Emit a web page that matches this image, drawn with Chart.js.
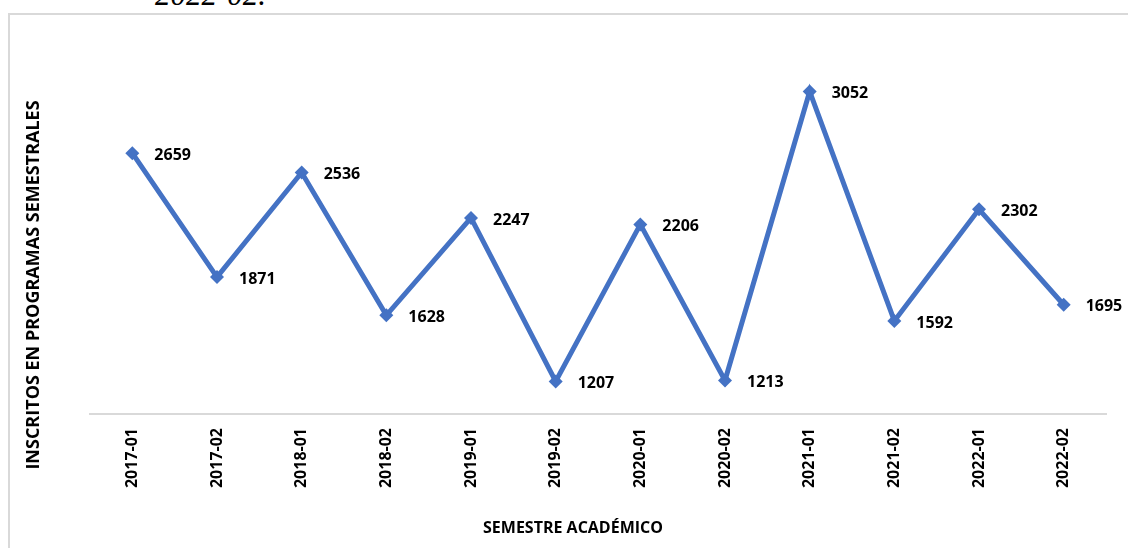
<!DOCTYPE html>
<html>
<head>
<meta charset="utf-8">
<script src="https://cdn.jsdelivr.net/npm/chart.js@4.4.1/dist/chart.umd.min.js"></script>
<style>
  html, body { margin:0; padding:0; background:#fff; overflow:hidden; }
  body { width:1128px; height:548px; position:relative; }
  #frame { position:absolute; left:8px; top:13px; width:1200px; height:600px; border:2px solid #d9d9d9; box-sizing:border-box; }
  #caption { position:absolute; left:155px; top:-21px; font-family:"Liberation Serif", serif; font-style:italic; font-size:31px; line-height:1; color:#000; white-space:nowrap; }
  #wrap { position:absolute; left:0; top:0; width:1128px; height:548px; }
</style>
</head>
<body>
<div id="caption">2022-02.</div>
<div id="frame"></div>
<div id="wrap"><canvas id="c" width="1128" height="548"></canvas></div>
<script>
const categories = ["2017-01","2017-02","2018-01","2018-02","2019-01","2019-02","2020-01","2020-02","2021-01","2021-02","2022-01","2022-02"];
const inscritos = [2659,1871,2536,1628,2247,1207,2206,1213,3052,1592,2302,1695];
const yTitle = "INSCRITOS EN PROGRAMAS SEMESTRALES";
const xTitle = "SEMESTRE ACADÉMICO";

const FONT = '"Open Sans", "Liberation Sans", sans-serif';

const dataLabels = {
  id: 'dataLabels',
  afterDatasetsDraw(chart) {
    const ctx = chart.ctx;
    const meta = chart.getDatasetMeta(0);
    ctx.save();
    ctx.font = 'bold 16px ' + FONT;
    ctx.fillStyle = '#000';
    ctx.textAlign = 'left';
    ctx.textBaseline = 'middle';
    meta.data.forEach((pt, i) => {
      ctx.fillText(String(chart.data.datasets[0].data[i]), pt.x + 22, pt.y + 2);
    });
    ctx.restore();
  }
};

const axisTitles = {
  id: 'axisTitles',
  afterDraw(chart) {
    const ctx = chart.ctx;
    ctx.save();
    ctx.fillStyle = '#000';
    ctx.textAlign = 'center';
    ctx.textBaseline = 'middle';
    ctx.font = 'bold 16px ' + FONT;
    ctx.fillText(xTitle, 573, 528);
    ctx.font = 'bold 18px ' + FONT;
    ctx.translate(34, 285);
    ctx.rotate(-Math.PI / 2);
    ctx.fillText(yTitle, 0, 0);
    ctx.restore();
  }
};

new Chart(document.getElementById('c'), {
  type: 'line',
  data: {
    labels: categories,
    datasets: [{
      data: inscritos,
      borderColor: '#4472C4',
      backgroundColor: '#4472C4',
      borderWidth: 5,
      tension: 0,
      pointStyle: 'rectRot',
      pointRadius: 7,
      pointHoverRadius: 7,
      pointBorderWidth: 0,
      fill: false
    }]
  },
  options: {
    responsive: false,
    animation: false,
    devicePixelRatio: 1,
    layout: { padding: { top: 21, right: 22, left: 0, bottom: 0 } },
    plugins: { legend: { display: false }, tooltip: { enabled: false } },
    scales: {
      x: {
        offset: true,
        grid: { display: false, drawTicks: false },
        border: { display: true, color: '#d9d9d9', width: 2 },
        ticks: {
          minRotation: 90, maxRotation: 90, padding: 14, autoSkip: false,
          color: '#000', font: { family: FONT, size: 16, weight: 'bold' }
        },
        afterFit(s) { s.height = 134; }
      },
      y: {
        min: 1000, max: 3500,
        grid: { display: false, drawTicks: false },
        border: { display: false },
        ticks: { display: false },
        afterFit(s) { s.width = 90; }
      }
    }
  },
  plugins: [dataLabels, axisTitles]
});
</script>
</body>
</html>
